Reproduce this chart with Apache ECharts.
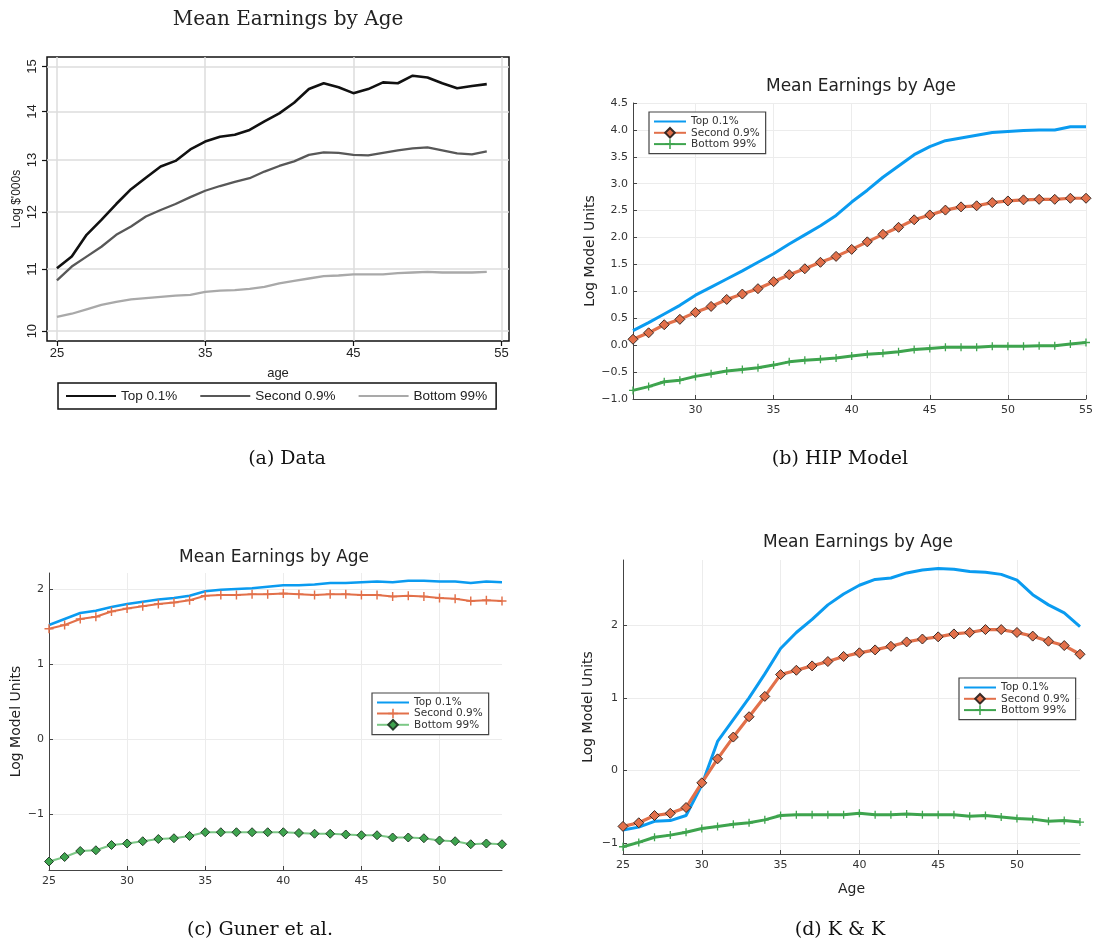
<!DOCTYPE html>
<html>
<head>
<meta charset="utf-8">
<script src="https://cdn.jsdelivr.net/npm/echarts@6/dist/echarts.min.js"></script>
<style>
  body { margin: 0; background: #fff; }
  .panel { position: absolute; left: 0; top: 0; width: 1097px; height: 946px; }
</style>
</head>
<body>
<div id="chartA" class="panel"></div>
<div id="chartB" class="panel"></div>
<div id="chartC" class="panel"></div>
<div id="chartD" class="panel"></div>
<script>
// ages on the x axis
var ages25 = [25, 26, 27, 28, 29, 30, 31, 32, 33, 34, 35, 36, 37, 38, 39, 40, 41, 42, 43, 44, 45, 46, 47, 48, 49, 50, 51, 52, 53, 54];
var ages26 = [26, 27, 28, 29, 30, 31, 32, 33, 34, 35, 36, 37, 38, 39, 40, 41, 42, 43, 44, 45, 46, 47, 48, 49, 50, 51, 52, 53, 54, 55];
var seriesNames = ['Top 0.1%', 'Second 0.9%', 'Bottom 99%'];

// (a) Data - log $'000s
var dataTop = [11.01, 11.21, 11.59, 11.86, 12.15, 12.43, 12.65, 12.87, 12.98, 13.21, 13.37, 13.47, 13.51, 13.61, 13.79, 13.96, 14.19, 14.49, 14.62, 14.53, 14.40, 14.49, 14.64, 14.62, 14.79, 14.75, 14.62, 14.51, 14.56, 14.60];
var dataSecond = [10.81, 11.04, 11.21, 11.38, 11.59, 11.74, 11.92, 12.04, 12.15, 12.28, 12.40, 12.49, 12.57, 12.64, 12.77, 12.88, 12.97, 13.10, 13.15, 13.14, 13.10, 13.09, 13.14, 13.19, 13.23, 13.25, 13.19, 13.13, 13.11, 13.17];
var dataBottom = [10.22, 10.27, 10.34, 10.41, 10.46, 10.50, 10.52, 10.54, 10.56, 10.57, 10.62, 10.64, 10.65, 10.67, 10.70, 10.76, 10.80, 10.84, 10.88, 10.89, 10.91, 10.91, 10.91, 10.93, 10.94, 10.95, 10.94, 10.94, 10.94, 10.95];
var ticksA_y = [10, 11, 12, 13, 14, 15];
var ticksA_x = [25, 35, 45, 55];

// (b) HIP Model
var hipTop = [0.27, 0.42, 0.58, 0.74, 0.93, 1.08, 1.23, 1.38, 1.54, 1.70, 1.88, 2.05, 2.22, 2.41, 2.66, 2.88, 3.12, 3.33, 3.54, 3.69, 3.80, 3.85, 3.90, 3.95, 3.97, 3.99, 4.00, 4.00, 4.06, 4.06];
var hipSecond = [0.11, 0.23, 0.38, 0.48, 0.61, 0.72, 0.85, 0.95, 1.05, 1.18, 1.31, 1.42, 1.54, 1.65, 1.78, 1.92, 2.06, 2.19, 2.33, 2.42, 2.51, 2.57, 2.59, 2.65, 2.68, 2.70, 2.71, 2.71, 2.73, 2.73];
var hipBottom = [-0.84, -0.77, -0.68, -0.65, -0.58, -0.53, -0.48, -0.45, -0.42, -0.37, -0.31, -0.28, -0.26, -0.24, -0.20, -0.17, -0.15, -0.12, -0.08, -0.06, -0.04, -0.04, -0.04, -0.02, -0.02, -0.02, -0.01, -0.01, 0.02, 0.05];
var ticksB_x = [30, 35, 40, 45, 50, 55];

// (c) Guner et al.
var gunerTop = [1.52, 1.60, 1.68, 1.71, 1.76, 1.80, 1.83, 1.86, 1.88, 1.91, 1.97, 1.99, 2.00, 2.01, 2.03, 2.05, 2.05, 2.06, 2.08, 2.08, 2.09, 2.10, 2.09, 2.11, 2.11, 2.10, 2.10, 2.08, 2.10, 2.09];
var gunerSecond = [1.47, 1.52, 1.60, 1.63, 1.70, 1.74, 1.77, 1.80, 1.82, 1.85, 1.91, 1.92, 1.92, 1.93, 1.93, 1.94, 1.93, 1.92, 1.93, 1.93, 1.92, 1.92, 1.90, 1.91, 1.90, 1.88, 1.87, 1.84, 1.85, 1.84];
var gunerBottom = [-1.63, -1.57, -1.49, -1.48, -1.41, -1.39, -1.36, -1.33, -1.32, -1.29, -1.24, -1.24, -1.24, -1.24, -1.24, -1.24, -1.25, -1.26, -1.26, -1.27, -1.28, -1.28, -1.31, -1.31, -1.32, -1.35, -1.36, -1.40, -1.39, -1.40];

// (d) K & K
var kkTop = [-0.82, -0.78, -0.70, -0.69, -0.62, -0.20, 0.40, 0.70, 1.00, 1.33, 1.68, 1.90, 2.08, 2.28, 2.43, 2.55, 2.63, 2.65, 2.72, 2.76, 2.78, 2.77, 2.74, 2.73, 2.70, 2.62, 2.42, 2.28, 2.17, 1.98];
var kkSecond = [-0.77, -0.72, -0.62, -0.59, -0.51, -0.17, 0.16, 0.46, 0.74, 1.02, 1.32, 1.38, 1.44, 1.50, 1.57, 1.62, 1.66, 1.71, 1.77, 1.81, 1.84, 1.88, 1.90, 1.94, 1.94, 1.90, 1.85, 1.78, 1.72, 1.60];
var kkBottom = [-1.05, -0.99, -0.92, -0.89, -0.85, -0.80, -0.77, -0.74, -0.72, -0.68, -0.62, -0.61, -0.61, -0.61, -0.61, -0.59, -0.61, -0.61, -0.60, -0.61, -0.61, -0.61, -0.63, -0.62, -0.64, -0.66, -0.67, -0.70, -0.69, -0.71];
var ticksCD_x = [25, 30, 35, 40, 45, 50];
var ticksCD_y = [-1, 0, 1, 2];

var BLUE = '#0a9bf0', ORANGE = '#e2704a', GREEN = '#3ea44e';
var PLUS = 'path://M4.2,0H5.8V4.2H10V5.8H5.8V10H4.2V5.8H0V4.2H4.2Z';
var SERIF = 'DejaVu Serif';
var SANS = 'DejaVu Sans';

function pairs(xs, ys) {
  return xs.map(function (x, i) { return [x, ys[i]]; });
}

function minusFmt(digits) {
  return function (v) {
    var s = Math.abs(v).toFixed(digits);
    return (v < 0 ? '\u2212' : '') + s;
  };
}

// legend entries; lines without markers get a hidden legend symbol
function legendItems(plain) {
  return seriesNames.map(function (n, i) {
    return plain[i] ? { name: n, itemStyle: { opacity: 0 } } : { name: n };
  });
}

function caption(text, x, y) {
  return {
    text: text, left: x, top: y, textAlign: 'center', padding: 0,
    textStyle: { fontFamily: SERIF, fontWeight: 'normal', fontSize: 19, color: '#111' }
  };
}

function juliaTitle(x, y) {
  return {
    text: 'Mean Earnings by Age', left: x, top: y, textAlign: 'center', padding: 0,
    textStyle: { fontFamily: SANS, fontWeight: 'normal', fontSize: 17, color: '#222' }
  };
}

function juliaLegend(left, top, plain) {
  return {
    orient: 'vertical', left: left, top: top,
    data: legendItems(plain),
    itemWidth: 32, itemHeight: 12, itemGap: 0,
    padding: [4, 6, 4, 4],
    borderColor: '#444', borderWidth: 1.2, backgroundColor: '#fff',
    textStyle: { fontFamily: SANS, fontSize: 10.5, color: '#333' }
  };
}

function juliaX(min, max, ticks, name) {
  var ax = {
    type: 'value', min: min, max: max,
    axisLine: { show: true, onZero: false, lineStyle: { color: '#444', width: 1 } },
    axisTick: { show: true, inside: true, length: 4, customValues: ticks, lineStyle: { color: '#444' } },
    axisLabel: { fontFamily: SANS, fontSize: 11, color: '#333', margin: 6, customValues: ticks },
    splitLine: { show: true, lineStyle: { color: '#ececec', width: 1 } }
  };
  if (name) {
    ax.name = name;
    ax.nameLocation = 'middle';
    ax.nameGap = 28;
    ax.nameTextStyle = { fontFamily: SANS, fontSize: 14, color: '#222' };
  }
  return ax;
}

function juliaY(min, max, ticks, interval, digits, gap) {
  var ax = {
    type: 'value', min: min, max: max,
    name: 'Log Model Units', nameLocation: 'middle', nameGap: gap,
    nameTextStyle: { fontFamily: SANS, fontSize: 14, color: '#222' },
    axisLine: { show: true, onZero: false, lineStyle: { color: '#444', width: 1 } },
    axisTick: { show: true, inside: true, length: 4, lineStyle: { color: '#444' } },
    axisLabel: { fontFamily: SANS, fontSize: 11, color: '#333', margin: 5, formatter: minusFmt(digits) },
    splitLine: { show: true, lineStyle: { color: '#ececec', width: 1 } }
  };
  if (ticks) {
    ax.axisLabel.customValues = ticks;
    ax.axisTick.customValues = ticks;
  } else {
    ax.interval = interval;
  }
  return ax;
}

function lineSeries(name, xs, ys, color, width, symbol, size, symbolFill, border) {
  return {
    name: name, type: 'line', data: pairs(xs, ys),
    showSymbol: !!symbol, symbol: symbol || 'none', symbolSize: size || 0,
    lineStyle: { color: color, width: width },
    itemStyle: { color: symbolFill || color, borderColor: border || symbolFill || color, borderWidth: border ? 1 : 0 },
    emphasis: { disabled: true }
  };
}

// ---------- (a) Data ----------
var chartA = echarts.init(document.getElementById('chartA'));
chartA.setOption({
  animation: false,
  title: [
    {
      text: 'Mean Earnings by Age', left: 288, top: 10, textAlign: 'center', padding: 0,
      textStyle: { fontFamily: SERIF, fontWeight: 'normal', fontSize: 20, color: '#222' }
    },
    caption('(a) Data', 287, 450)
  ],
  grid: { left: 47, top: 57, width: 462, height: 284, show: true, borderColor: '#111', borderWidth: 1.5, backgroundColor: '#fff' },
  xAxis: {
    type: 'value', min: 24.33, max: 55.5,
    name: 'age', nameLocation: 'middle', nameGap: 26,
    nameTextStyle: { fontFamily: 'Liberation Sans', fontSize: 13, color: '#222' },
    axisLine: { show: false },
    axisTick: { show: true, length: 5, customValues: ticksA_x, lineStyle: { color: '#111', width: 1.2 } },
    axisLabel: { customValues: ticksA_x, fontFamily: 'Liberation Sans', fontSize: 13, color: '#222', margin: 6 },
    splitLine: { show: true, lineStyle: { color: '#dcdcdc', width: 1.5 } }
  },
  yAxis: {
    type: 'log', logBase: 10, min: 9.85, max: 15.22,
    name: 'Log $\'000s', nameLocation: 'middle', nameGap: 24,
    nameTextStyle: { fontFamily: 'Liberation Sans', fontSize: 12, color: '#222' },
    axisLine: { show: false },
    axisTick: { show: true, length: 5, customValues: ticksA_y, lineStyle: { color: '#111', width: 1.2 } },
    axisLabel: { customValues: ticksA_y, rotate: 90, fontFamily: 'Liberation Sans', fontSize: 13, color: '#222', margin: 8 },
    splitLine: { show: true, lineStyle: { color: '#dcdcdc', width: 1.5 } }
  },
  legend: {
    left: 58, top: 383, data: legendItems([true, true, true]),
    itemWidth: 50, itemHeight: 12, itemGap: 22,
    padding: [6, 9, 6, 7],
    borderColor: '#111', borderWidth: 1.5,
    textStyle: { fontFamily: 'Liberation Sans', fontSize: 13.5, color: '#222' }
  },
  series: [
    lineSeries('Top 0.1%', ages25, dataTop, '#111', 2.6),
    lineSeries('Second 0.9%', ages25, dataSecond, '#585858', 2.3),
    lineSeries('Bottom 99%', ages25, dataBottom, '#a9a9a9', 2.3)
  ]
});

// ---------- (b) HIP Model ----------
var chartB = echarts.init(document.getElementById('chartB'));
chartB.setOption({
  animation: false,
  title: [juliaTitle(861, 78), caption('(b) HIP Model', 840, 450)],
  grid: { left: 633, top: 103, width: 453, height: 296 },
  xAxis: juliaX(26, 55, ticksB_x),
  yAxis: juliaY(-1, 4.5, null, 0.5, 1, 35),
  legend: juliaLegend(649, 112, [true, false, false]),
  series: [
    lineSeries('Top 0.1%', ages26, hipTop, BLUE, 3),
    lineSeries('Second 0.9%', ages26, hipSecond, ORANGE, 3.2, 'diamond', 10, ORANGE, '#3a2a25'),
    lineSeries('Bottom 99%', ages26, hipBottom, GREEN, 3, PLUS, 8)
  ]
});

// ---------- (c) Guner et al. ----------
var chartC = echarts.init(document.getElementById('chartC'));
chartC.setOption({
  animation: false,
  title: [juliaTitle(274, 549), caption('(c) Guner et al.', 260, 921)],
  grid: { left: 49, top: 573, width: 453, height: 297 },
  xAxis: juliaX(25, 54, ticksCD_x),
  yAxis: juliaY(-1.743, 2.213, ticksCD_y, null, 0, 26),
  legend: juliaLegend(372, 693, [true, false, false]),
  series: [
    lineSeries('Top 0.1%', ages25, gunerTop, BLUE, 2.5),
    lineSeries('Second 0.9%', ages25, gunerSecond, ORANGE, 2, PLUS, 9),
    lineSeries('Bottom 99%', ages25, gunerBottom, '#7cc886', 2, 'diamond', 9, GREEN, '#24402a')
  ]
});

// ---------- (d) K & K ----------
var chartD = echarts.init(document.getElementById('chartD'));
chartD.setOption({
  animation: false,
  title: [juliaTitle(858, 534), caption('(d) K & K', 840, 921)],
  grid: { left: 623, top: 560, width: 457, height: 294 },
  xAxis: juliaX(25, 54, ticksCD_x, 'Age'),
  yAxis: juliaY(-1.15, 2.898, ticksCD_y, null, 0, 28),
  legend: juliaLegend(959, 678, [true, false, false]),
  series: [
    lineSeries('Top 0.1%', ages25, kkTop, BLUE, 3),
    lineSeries('Second 0.9%', ages25, kkSecond, ORANGE, 3.2, 'diamond', 10, ORANGE, '#3a2a25'),
    lineSeries('Bottom 99%', ages25, kkBottom, GREEN, 3, PLUS, 8)
  ]
});
</script>
</body>
</html>
